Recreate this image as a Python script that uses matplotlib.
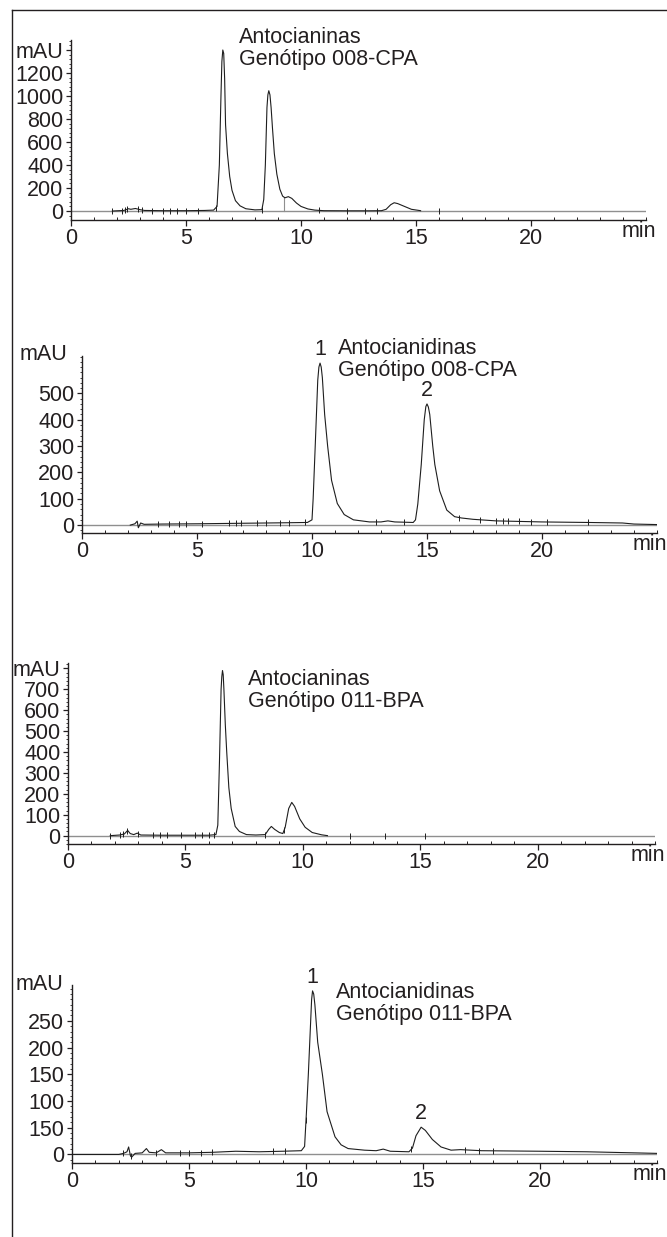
import numpy as np
import matplotlib
matplotlib.use("Agg")
import matplotlib.pyplot as plt
from matplotlib.lines import Line2D
from matplotlib.ticker import MultipleLocator, FixedLocator, FixedFormatter

plt.rcParams['font.family'] = ['Liberation Sans', 'DejaVu Sans']
plt.rcParams['font.size'] = 15.5

TXT = '#231f20'
TRACE = '#1e1e1e'
GREY = '#8f8f8f'
FS = 15.5

# ---- data (time in min, signal in mAU) ----
# panel 1: Antocianinas 008-CPA
t1 = [1.8, 2.3, 2.5, 2.6, 2.8, 3.0, 3.2, 4.0, 5.0, 5.8, 6.2, 6.35, 6.45, 6.52, 6.56, 6.6,
      6.64, 6.68, 6.72, 6.8, 6.9, 7.0, 7.15, 7.35, 7.6, 8.0, 8.3, 8.38, 8.45, 8.52, 8.56,
      8.6, 8.65, 8.7, 8.76, 8.84, 8.95, 9.08, 9.2, 9.3, 9.45, 9.6, 9.8, 10.0, 10.3, 10.6,
      11.0, 12.0, 13.0, 13.5, 13.7, 13.9, 14.05, 14.2, 14.5, 14.8, 15.2]
y1 = [0, 5, 20, 15, 22, 12, 5, 3, 3, 5, 8, 40, 400, 1000, 1300, 1400,
      1370, 1150, 750, 500, 300, 180, 90, 45, 20, 10, 12, 100, 400, 900, 1010,
      1046, 1010, 900, 720, 500, 320, 190, 130, 115, 125, 110, 70, 40, 18, 8,
      3, 2, 2, 3, 15, 55, 72, 65, 40, 15, 3]
ev1 = [1.8, 2.2, 2.35, 2.45, 2.9, 3.1, 3.5, 4.0, 4.3, 4.6, 5.0, 5.5, 6.3, 8.3, 10.8,
       12.0, 12.8, 13.3, 16.0]

# panel 2: Antocianidinas 008-CPA
t2 = [2.1, 2.3, 2.4, 2.45, 2.55, 2.7, 3.5, 5.0, 6.0, 7.0, 8.0, 9.0, 9.8, 10.0, 10.05, 10.14,
      10.25, 10.3, 10.35, 10.4, 10.45, 10.55, 10.68, 10.85, 11.1, 11.4, 11.8, 12.5, 13.0,
      13.3, 13.6, 14.4, 14.5, 14.6, 14.75, 14.88, 14.95, 15.0, 15.06, 15.12, 15.25, 15.34,
      15.55, 15.86, 16.2, 16.5, 17.0, 18.0, 19.0, 20.0, 22.0, 23.5, 24.0, 25.0]
y2 = [0, 5, 15, -10, 8, 3, 4, 5, 6, 7, 8, 9, 10, 20, 100, 300,
      550, 600, 615, 600, 560, 420, 300, 170, 82, 40, 20, 12, 12,
      16, 12, 10, 20, 80, 230, 400, 450, 460, 448, 420, 300, 230,
      130, 57, 32, 27, 22, 16, 14, 12, 10, 8, 4, 2]
ev2 = [3.3, 3.8, 4.2, 4.5, 5.2, 6.4, 6.7, 6.9, 7.6, 8.0, 8.6, 9.0, 9.7, 12.8, 14.0,
       16.4, 17.3, 18.0, 18.3, 18.5, 19.0, 19.5, 20.2, 22.0]

# panel 3: Antocianinas 011-BPA
t3 = [1.8, 2.2, 2.4, 2.54, 2.65, 2.8, 2.95, 3.1, 4.0, 5.0, 6.0, 6.3, 6.38, 6.45, 6.52, 6.55,
      6.58, 6.61, 6.64, 6.7, 6.76, 6.85, 6.95, 7.12, 7.3, 7.6, 8.0, 8.4, 8.55, 8.66, 8.8,
      9.0, 9.15, 9.25, 9.4, 9.53, 9.65, 9.87, 10.1, 10.4, 10.8, 11.05]
y3 = [0, 3, 8, 25, 10, 5, 12, 3, 2, 2, 2, 5, 50, 350, 700, 760,
      790, 770, 700, 530, 400, 230, 130, 44, 20, 5, 3, 5, 30, 44, 30,
      15, 10, 40, 130, 159, 140, 80, 40, 15, 4, 0]
ev3 = [1.8, 2.2, 2.35, 2.5, 3.0, 3.6, 3.9, 4.2, 4.8, 5.4, 5.7, 6.0, 6.2, 8.4, 9.2,
       12.0, 13.5, 15.2]

# panel 4: Antocianidinas 011-BPA
t4 = [0.0, 2.0, 2.2, 2.35, 2.42, 2.5, 2.55, 2.7, 3.0, 3.18, 3.3, 3.6, 3.82, 4.0, 5.0, 6.0,
      7.0, 8.0, 9.0, 9.8, 9.94, 10.02, 10.1, 10.2, 10.24, 10.28, 10.33, 10.38, 10.5, 10.7,
      10.9, 11.24, 11.5, 11.8, 12.5, 13.0, 13.3, 13.6, 14.4, 14.55, 14.7, 14.92, 15.1,
      15.4, 15.77, 16.2, 16.6, 17.5, 20.0, 22.0, 23.0, 24.0, 25.0]
y4 = [0, 0, 2, 5, 14, -3, -5, 2, 3, 11, 4, 3, 9, 3, 3, 4,
      6, 5, 6, 7, 15, 80, 150, 250, 290, 306, 300, 280, 210, 150,
      80, 33, 18, 11, 8, 7, 10, 6, 5, 12, 35, 51, 45,
      28, 14, 8, 9, 7, 6, 5, 4, 3, 2]
ev4 = [2.2, 2.5, 3.6, 4.6, 5.0, 5.5, 6.0, 8.6, 9.1, 10.0, 14.5, 16.8, 17.4, 18.0]

titles = [("Antocianinas", "Genótipo 008-CPA"),
          ("Antocianidinas", "Genótipo 008-CPA"),
          ("Antocianinas", "Genótipo 011-BPA"),
          ("Antocianidinas", "Genótipo 011-BPA")]

y1_ticks = [0, 200, 400, 600, 800, 1000, 1200, 1400]
y1_labels = ['0', '200', '400', '600', '800', '1000', '1200', 'mAU']
y2_ticks = [0, 100, 200, 300, 400, 500]
y2_labels = ['0', '100', '200', '300', '400', '500']
y3_ticks = [0, 100, 200, 300, 400, 500, 600, 700, 800]
y3_labels = ['0', '100', '200', '300', '400', '500', '600', '700', 'mAU']
y4_ticks = [0, 50, 100, 150, 200, 250]
y4_labels = ['0', '150', '100', '150', '200', '250']

peak_no = ['1', '2']
p2_peaks = [(10.35, 615), (15.0, 460)]
p4_peaks = [(10.28, 306), (14.92, 51)]

x_ticks = [0, 5, 10, 15, 20]

W, H = 667, 1237
fig = plt.figure(figsize=(W / 100, H / 100), dpi=100)


def add_panel(left, right, top, bottom):
    return fig.add_axes([left / W, 1 - bottom / H, (right - left) / W, (bottom - top) / H])


def style_axes(ax, ylim, yticks, ylabels, yminor):
    ax.set_xlim(0, 25)
    ax.set_ylim(*ylim)
    for s in ['top', 'right']:
        ax.spines[s].set_visible(False)
    for s in ['left', 'bottom']:
        ax.spines[s].set_color(TXT)
        ax.spines[s].set_linewidth(1.0)
    ax.set_xticks(x_ticks)
    ax.xaxis.set_minor_locator(MultipleLocator(1))
    ax.yaxis.set_major_locator(FixedLocator(yticks))
    ax.yaxis.set_major_formatter(FixedFormatter(ylabels))
    ax.yaxis.set_minor_locator(MultipleLocator(yminor))
    ax.tick_params(axis='x', which='major', direction='out', length=4, width=0.9,
                   pad=2, colors=TXT, labelsize=FS)
    ax.tick_params(axis='x', which='minor', direction='in', length=2.5, width=0.7, colors=TXT)
    ax.tick_params(axis='y', which='major', direction='out', length=3.5, width=0.9,
                   pad=2, colors=TXT, labelsize=FS)
    ax.tick_params(axis='y', which='minor', direction='out', length=1.8, width=0.6, colors=TXT)
    ax.annotate('min', (24.7, 0), xycoords=ax.get_xaxis_transform(), xytext=(0, -8.5),
                textcoords='offset points', ha='center', va='center', color=TXT, fontsize=FS)
    ax.patch.set_alpha(0)


def draw_trace(ax, t, y, events):
    ax.axhline(0, color=GREY, lw=1.0, zorder=1)
    ax.plot(t, y, color=TRACE, lw=0.8, zorder=3)
    ev_y = np.interp(events, t, y, left=0, right=0)
    ax.plot(events, ev_y, ls='none', marker='|', ms=4, mew=0.7, color=TRACE, zorder=4)


def title_text(ax, x, y, lines):
    ax.text(x, y, lines[0] + "\n" + lines[1], ha='left', va='center',
            linespacing=1.05, color=TXT, fontsize=FS)


# panel 1
ax1 = add_panel(71, 646, 40, 220)
style_axes(ax1, (-78, 1487), y1_ticks, y1_labels, 40)
draw_trace(ax1, t1, y1, ev1)
ax1.plot([9.27, 9.27], [0, 118], color=GREY, lw=0.8, zorder=2)
title_text(ax1, 7.3, 1414, titles[0])

# panel 2
ax2 = add_panel(82, 657, 356, 533)
style_axes(ax2, (-30, 642), y2_ticks, y2_labels, 20)
draw_trace(ax2, t2, y2, ev2)
ax2.text(-0.025, 1.01, 'mAU', transform=ax2.transAxes, ha='right', va='center',
         color=TXT, fontsize=FS)
title_text(ax2, 11.13, 629, titles[1])
for lab, (px, py) in zip(peak_no, p2_peaks):
    ax2.annotate(lab, (px, py), xytext=(0, 2), textcoords='offset points',
                 ha='center', va='bottom', color=TXT, fontsize=FS)

# panel 3
ax3 = add_panel(68, 655, 663, 844)
style_axes(ax3, (-40, 826), y3_ticks, y3_labels, 20)
draw_trace(ax3, t3, y3, ev3)
title_text(ax3, 7.66, 694, titles[2])

# panel 4
ax4 = add_panel(72, 657, 985, 1163)
style_axes(ax4, (-16, 317), y4_ticks, y4_labels, 10)
draw_trace(ax4, t4, y4, ev4)
ax4.text(-0.015, 1.0, 'mAU', transform=ax4.transAxes, ha='right', va='center',
         color=TXT, fontsize=FS)
title_text(ax4, 11.29, 282, titles[3])
for lab, (px, py) in zip(peak_no, p4_peaks):
    ax4.annotate(lab, (px, py), xytext=(0, 2), textcoords='offset points',
                 ha='center', va='bottom', color=TXT, fontsize=FS)

# outer frame (top and left edges only, as in the figure)
fig.add_artist(Line2D([12 / W, 1.0], [1 - 10 / H, 1 - 10 / H], color=TXT, lw=1.0))
fig.add_artist(Line2D([12 / W, 12 / W], [0.0, 1 - 10 / H], color=TXT, lw=1.0))

fig.savefig('out.png', dpi=100)
